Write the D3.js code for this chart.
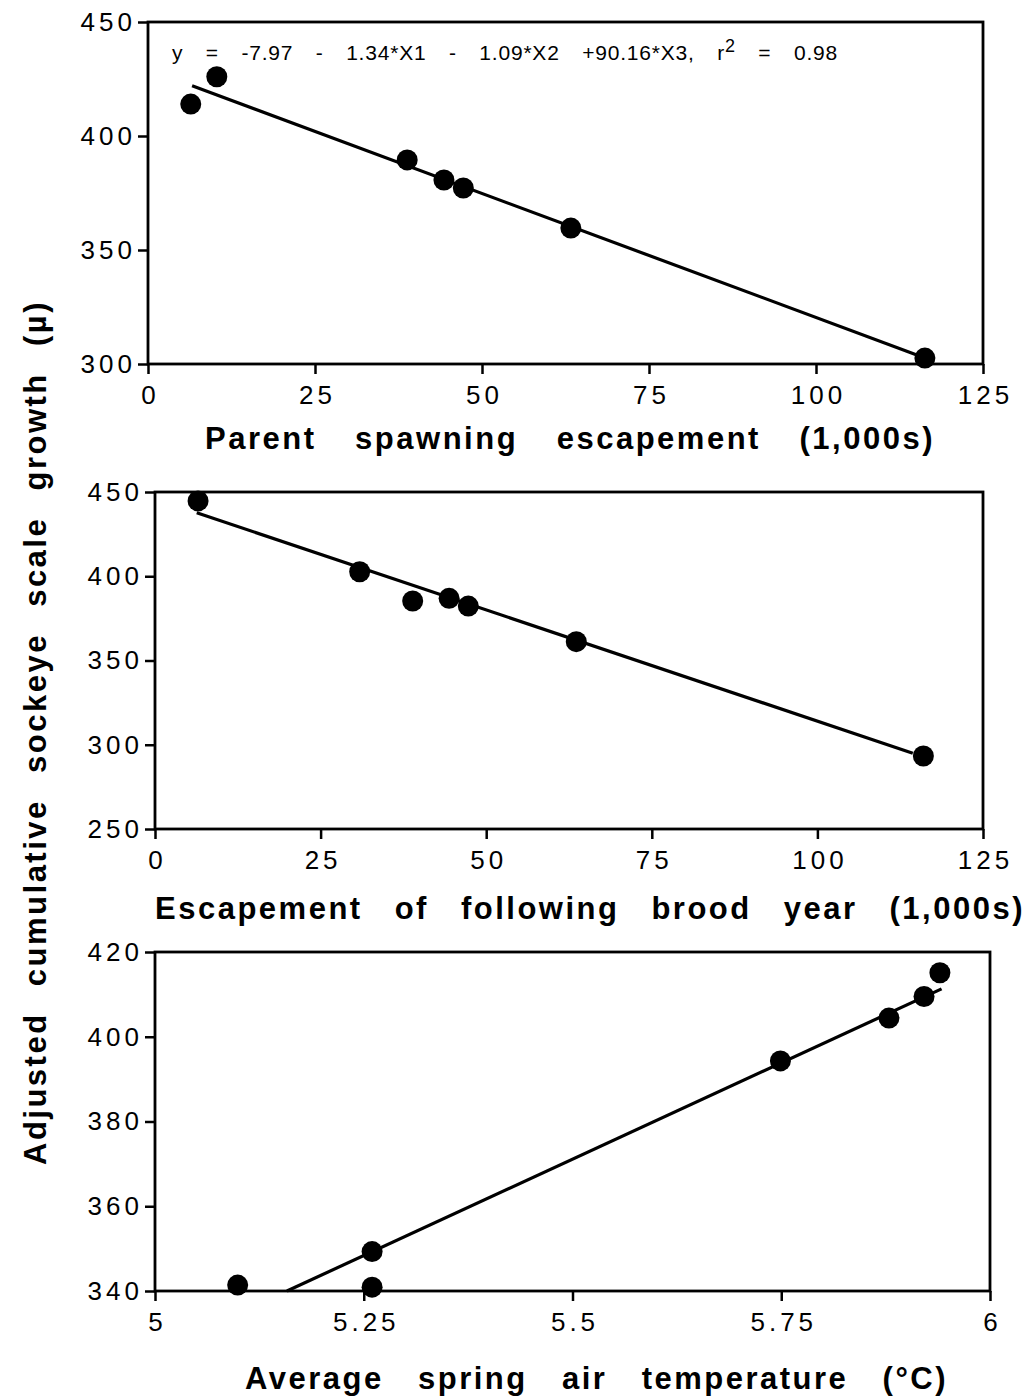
<!DOCTYPE html>
<html>
<head>
<meta charset="utf-8">
<script src="https://cdn.jsdelivr.net/npm/d3@7"></script>
<style>
  body { margin: 0; background: #fff; }
  svg { display: block; }
  text { font-family: "Liberation Sans", Arial, Helvetica, sans-serif; fill: #000; }
  .tick text { font-size: 26px; letter-spacing: 4px; }
  .tick line { stroke: #000; stroke-width: 2.5px; }
  .axis-title { font-size: 31px; font-weight: bold; letter-spacing: 2.5px; }
</style>
</head>
<body>
<div id="chart"></div>
<script>
// panel 1: parent spawning escapement
const parentEsc = [6.4, 10.3, 38.8, 44.3, 47.2, 63.3, 116.3];
const parentGrowth = [414, 426, 389.5, 380.7, 377.2, 359.6, 302.6];
const parentFitX = [6.6, 115.1];
const parentFitY = [422, 304];

// panel 2: escapement of following brood year
const followEsc = [6.5, 30.9, 38.9, 44.4, 47.3, 63.6, 116.0];
const followGrowth = [444.7, 402.7, 385.3, 386.9, 382.3, 361.2, 293.3];
const followFitX = [6.3, 114.4];
const followFitY = [437.7, 295];

// panel 3: average spring air temperature
const springTemp = [5.099, 5.26, 5.26, 5.749, 5.879, 5.921, 5.940];
const tempGrowth = [341.4, 349.3, 340.9, 394.3, 404.4, 409.5, 415.1];
const tempFitX = [5.158, 5.942];
const tempFitY = [340, 411.3];

// ticks
const escTicks = [0, 25, 50, 75, 100, 125];
const tempTicks = [5, 5.25, 5.5, 5.75, 6];
const growthTicks1 = [300, 350, 400, 450];
const growthTicks2 = [250, 300, 350, 400, 450];
const growthTicks3 = [340, 360, 380, 400, 420];

const width = 1029, height = 1398;

const svg = d3.select("#chart").append("svg")
    .attr("width", width)
    .attr("height", height);

// spread the words of a text so it fills a given width
function fitWords(sel, target) {
    let node = sel.node();
    let gaps = (sel.text().match(/ /g) || []).length;
    let w = node.getComputedTextLength();
    if (gaps > 0) sel.style("word-spacing", ((target - w) / gaps) + "px");
}

function drawPanel(opt) {
    let x = d3.scaleLinear().domain(opt.xDomain).range(opt.xRange);
    let y = d3.scaleLinear().domain(opt.yDomain).range(opt.yRange);
    let g = svg.append("g");

    // x axis
    g.append("g")
        .attr("transform", `translate(0,${opt.yRange[0]})`)
        .call(d3.axisBottom(x).tickValues(opt.xTicks).tickSize(10).tickSizeOuter(0).tickPadding(12)
            .tickFormat(d => String(d)))
        .call(a => a.select(".domain").remove())
        .selectAll("text").attr("dx", "2px");

    // y axis
    g.append("g")
        .attr("transform", `translate(${opt.xRange[0]},0)`)
        .call(d3.axisLeft(y).tickValues(opt.yTicks).tickSize(10).tickSizeOuter(0).tickPadding(4)
            .tickFormat(d => String(d)))
        .call(a => a.select(".domain").remove())
        .selectAll("text").attr("dx", "2px");

    // frame
    g.append("rect")
        .attr("x", opt.xRange[0])
        .attr("y", opt.yRange[1])
        .attr("width", opt.xRange[1] - opt.xRange[0])
        .attr("height", opt.yRange[0] - opt.yRange[1])
        .attr("fill", "none")
        .attr("stroke", "#000")
        .attr("stroke-width", 2.8);

    // fitted line
    let fit = opt.fitX.map((v, i) => [v, opt.fitY[i]]);
    g.append("path")
        .datum(fit)
        .attr("d", d3.line().x(d => x(d[0])).y(d => y(d[1])))
        .attr("fill", "none")
        .attr("stroke", "#000")
        .attr("stroke-width", 3.2);

    // points
    let pts = opt.xs.map((v, i) => [v, opt.ys[i]]);
    g.selectAll(".dot")
        .data(pts)
        .enter()
        .append("circle")
        .attr("class", "dot")
        .attr("cx", d => x(d[0]))
        .attr("cy", d => y(d[1]))
        .attr("r", 10.5)
        .attr("fill", "#000");

    // x title
    let t = g.append("text")
        .attr("class", "axis-title")
        .attr("x", opt.title.x0)
        .attr("y", opt.title.y)
        .text(opt.title.text);
    fitWords(t, opt.title.x1 - opt.title.x0);
    return {x, y, g};
}

drawPanel({
    xDomain: [0, 125], xRange: [148, 983],
    yDomain: [300, 450], yRange: [364, 22],
    xTicks: escTicks, yTicks: growthTicks1,
    xs: parentEsc, ys: parentGrowth, fitX: parentFitX, fitY: parentFitY,
    title: {text: "Parent spawning escapement (1,000s)", x0: 205, x1: 935, y: 449}
});

drawPanel({
    xDomain: [0, 125], xRange: [155, 983],
    yDomain: [250, 450], yRange: [829, 492],
    xTicks: escTicks, yTicks: growthTicks2,
    xs: followEsc, ys: followGrowth, fitX: followFitX, fitY: followFitY,
    title: {text: "Escapement of following brood year (1,000s)", x0: 155, x1: 1025, y: 919}
});

drawPanel({
    xDomain: [5, 6], xRange: [155, 990],
    yDomain: [340, 420], yRange: [1291, 952],
    xTicks: tempTicks, yTicks: growthTicks3,
    xs: springTemp, ys: tempGrowth, fitX: tempFitX, fitY: tempFitY,
    title: {text: "Average spring air temperature (°C)", x0: 245, x1: 948, y: 1389}
});

// regression equation
let eq = svg.append("text")
    .attr("x", 172)
    .attr("y", 60)
    .style("font-size", "21px")
    .style("letter-spacing", "0.8px");
eq.append("tspan").text("y = -7.97 - 1.34*X1 - 1.09*X2 +90.16*X3, r");
eq.append("tspan").attr("dy", -8).style("font-size", "18px").text("2");
eq.append("tspan").attr("dy", 8).text(" = 0.98");
fitWords(eq, 838 - 172);

// shared y title
let yt = svg.append("text")
    .attr("class", "axis-title")
    .attr("transform", "translate(46,1165) rotate(-90)")
    .attr("x", 0)
    .attr("y", 0)
    .style("font-size", "31px")
    .text("Adjusted cumulative sockeye scale growth (µ)");
fitWords(yt, 1165 - 300);
</script>
</body>
</html>
